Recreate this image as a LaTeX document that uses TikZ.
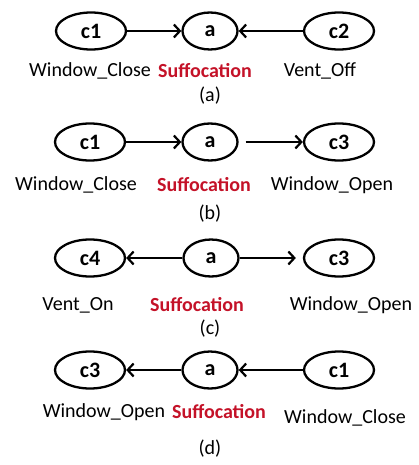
\documentclass[tikz,border=0pt]{standalone}
\usepackage{fontspec}
\setmainfont{Carlito}
\usetikzlibrary{shapes.geometric,arrows.meta}
\definecolor{sufred}{RGB}{196,18,40}
\begin{document}
\begin{tikzpicture}
  [x=1pt,y=-1pt,every node/.style={font=\fontsize{20}{24}\selectfont},
   var/.style={ellipse,draw,line width=2.3pt,minimum width=70pt,minimum height=37pt,
     inner sep=0pt,font=\fontsize{22}{26}\selectfont\bfseries},
   act/.style={var,minimum width=55pt},
   effect/.style={text=sufred,font=\fontsize{20}{24}\selectfont\bfseries},
   link/.style={line width=2.2pt,-{Straight Barb[length=6pt,width=13pt]}}]
  \useasboundingbox (0,0) rectangle (419,465);

  % (a)
  \node[var] (c1a) at (91,31) {c1};
  \node[act] (aa)  at (210,31) {a};
  \node[var] (c2a) at (339,31) {c2};
  \node (l1a) at (90,71) {Window\_Close};
  \node[effect] (sa) at (205,71) {Suffocation};
  \node (l2a) at (320,71) {Vent\_Off};
  \node (capa) at (210,96) {(a)};

  % (b)
  \node[var] (c1b) at (90,142) {c1};
  \node[act] (ab)  at (210,142) {a};
  \node[var] (c3b) at (339,142) {c3};
  \node (l1b) at (76,185) {Window\_Close};
  \node[effect] (sb) at (204,185) {Suffocation};
  \node (l3b) at (332,185) {Window\_Open};
  \node (capb) at (210,214) {(b)};

  % (c)
  \node[var] (c4c) at (90,258) {c4};
  \node[act] (ac)  at (211,258) {a};
  \node[var] (c3c) at (339,258) {c3};
  \node (l4c) at (78,305) {Vent\_On};
  \node[effect] (sc) at (197,305) {Suffocation};
  \node (l3c) at (351,305) {Window\_Open};
  \node (capc) at (210,329) {(c)};

  % (d)
  \node[var] (c3d) at (90,370) {c3};
  \node[act] (ad)  at (210,370) {a};
  \node[var] (c1d) at (339,370) {c1};
  \node (l3d) at (104,412) {Window\_Open};
  \node[effect] (sd) at (219,412) {Suffocation};
  \node (l1d) at (345,418) {Window\_Close};
  \node (capd) at (210,449) {(d)};

  \foreach \from/\to in {c1a/aa,c2a/aa,c1b/ab,ac/c4c,ad/c3d,c1d/ad}
    \draw[link] (\from) -- (\to);
  \draw[link,shorten <=7pt] (ab) -- (c3b);
  \draw[link,shorten >=7pt] (ac) -- (c3c);

\end{tikzpicture}
\end{document}
